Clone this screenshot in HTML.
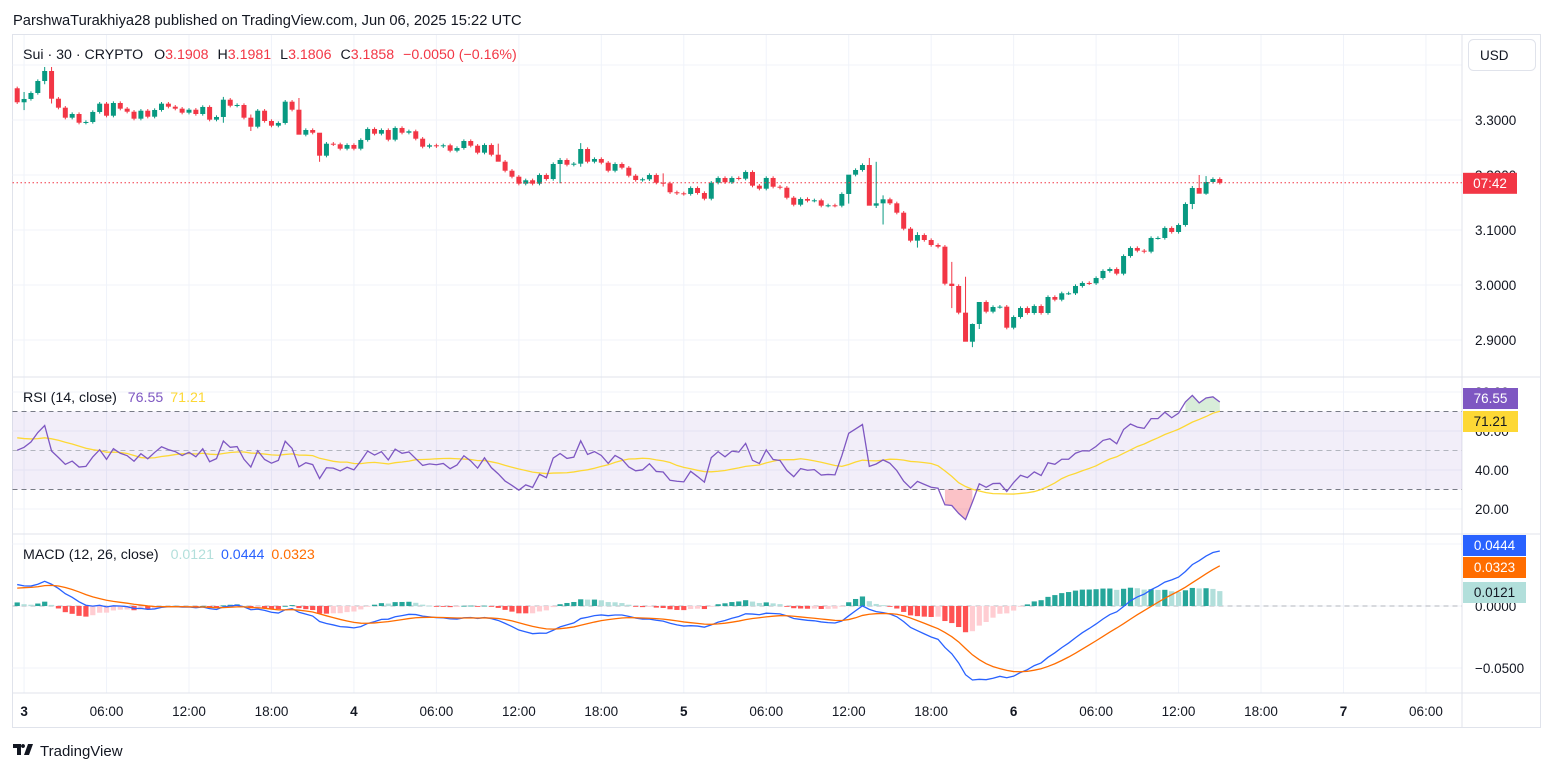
<!DOCTYPE html>
<html><head><meta charset="utf-8"><style>
html,body{margin:0;padding:0;background:#fff;}
svg{display:block;font-family:"Liberation Sans","DejaVu Sans",sans-serif;}
</style></head><body>
<svg id="chart" width="1553" height="772" viewBox="0 0 1553 772" xmlns="http://www.w3.org/2000/svg">
<text x="13" y="25" font-size="14.7" fill="#131722">ParshwaTurakhiya28 published on TradingView.com, Jun 06, 2025 15:22 UTC</text>
<rect x="12.5" y="34.5" width="1528" height="693" fill="none" stroke="#e0e3eb"/>
<g id="grid"></g>
<g id="panes"></g>
<g id="marks"></g>
<g id="axes"></g>
<text x="23" y="59" font-size="14.2" fill="#131722">Sui · 30 · CRYPTO <tspan dx="7">O</tspan><tspan fill="#f23645">3.1908</tspan><tspan dx="9">H</tspan><tspan fill="#f23645">3.1981</tspan><tspan dx="9">L</tspan><tspan fill="#f23645">3.1806</tspan><tspan dx="9">C</tspan><tspan fill="#f23645">3.1858</tspan><tspan dx="9" fill="#f23645">−0.0050 (−0.16%)</tspan></text>
<text x="23" y="402" font-size="14.2" fill="#131722">RSI (14, close) <tspan dx="7" fill="#7e57c2">76.55</tspan><tspan dx="7" fill="#fdd835">71.21</tspan></text>
<text x="23" y="559" font-size="14.2" fill="#131722">MACD (12, 26, close) <tspan dx="8" fill="#b2dfdb">0.0121</tspan><tspan dx="7" fill="#2962ff">0.0444</tspan><tspan dx="7" fill="#ff6d00">0.0323</tspan></text>
<g><rect x="1468.5" y="39.5" width="67" height="31" rx="5" fill="#fff" stroke="#e0e3eb"/><text x="1480" y="60" font-size="13.5" fill="#131722">USD</text></g>
<g>
<path d="M13 744h8v11h-4v-7h-4z M23 744a2 2 0 1 0 0.01 0z M28 744h5l-4 11h-5z" fill="#131722"/>
<text x="40" y="756" font-size="15" fill="#131722">TradingView</text></g>
</svg>
<script>
// ---- data: candles (30m), Jun 2 23:30 .. Jun 6 15:00 ----
const firstOpen = 3.3577;
const closes = [3.3322,3.3382,3.3491,3.3709,3.3891,3.3387,3.3224,3.3042,3.3109,3.2951,3.2964,3.3146,3.3297,3.3078,3.3309,3.3206,3.3151,3.3024,3.3169,3.3060,
3.3182,3.3297,3.3242,3.3206,3.3133,3.3187,3.3109,3.3237,3.3006,3.3055,3.3369,3.3260,3.3273,3.3042,3.2878,3.3169,3.2982,3.2897,3.2946,3.3333,
3.3187,3.2733,3.2818,3.2769,3.2351,3.2569,3.2558,3.2478,3.2546,3.2478,3.2637,3.2837,3.2751,3.2818,3.2642,3.2855,3.2769,3.2795,3.2660,3.2515,
3.2540,3.2522,3.2540,3.2442,3.2491,3.2618,3.2533,3.2406,3.2546,3.2369,3.2242,3.2078,3.1969,3.1842,3.1904,3.1842,3.2000,3.1927,3.2200,3.2273,
3.2187,3.2206,3.2473,3.2242,3.2291,3.2224,3.2078,3.2200,3.2133,3.1987,3.1909,3.1922,3.2000,3.1860,3.1849,3.1686,3.1667,3.1655,3.1764,3.1673,
3.1569,3.1860,3.1946,3.1867,3.1946,3.1933,3.2055,3.1806,3.1751,3.1946,3.1787,3.1769,3.1587,3.1460,3.1564,3.1533,3.1540,3.1442,3.1449,3.1442,
3.1655,3.2006,3.2091,3.2182,3.1442,3.1485,3.1558,3.1485,3.1315,3.1024,3.0806,3.0909,3.0818,3.0727,3.0697,3.0024,2.9982,2.9497,2.8969,2.9291,
2.9691,2.9515,2.9600,2.9606,2.9224,2.9418,2.9582,2.9491,2.9618,2.9491,2.9782,2.9733,2.9849,2.9849,2.9982,3.0037,3.0031,3.0127,3.0255,3.0291,
3.0206,3.0527,3.0673,3.0624,3.0606,3.0855,3.0855,3.1037,3.0964,3.1091,3.1473,3.1764,3.1660,3.1873,3.1927,3.1858];
// notable wick extremes (candle index -> [high, low])
const wickIdx = [1,4,5,30,34,41,44,70,79,82,94,121,124,125,126,131,136,138,139,140,171,172,173];
const wickHi  = [3.3509,3.3964,3.3964,3.3420,3.3100,3.3400,3.2600,3.2570,3.2310,3.2580,3.2030,3.2000,3.2310,3.2240,3.1630,3.0960,3.0420,3.0150,2.9300,2.9650,3.1800,3.2000,3.1980];
const wickLo  = [3.3180,3.3650,3.3300,3.2950,3.2800,3.2860,3.2240,3.2300,3.1850,3.2150,3.1790,3.1480,3.2050,3.1400,3.1100,3.0680,2.9580,2.9100,2.8870,2.9200,3.1380,3.1680,3.1640];
// seeds for indicators at left edge
const seedEma12 = 3.336, seedEma26 = 3.317, seedSignal = 0.0137;
const seedAvgGain = 0.0080, seedAvgLoss = 0.0060, seedRsi = 57;
const priceTicks = [3.4,3.3,3.2,3.1,3.0,2.9];
const priceTickLabels = ["","3.3000","3.2000","3.1000","3.0000","2.9000"];
const rsiTicks = [80,60,40,20];
const rsiTickLabels = ["80.00","60.00","40.00","20.00"];
const macdTicks = [0.05,0,-0.05];
const macdTickLabels = ["","0.0000","−0.0500"];
const timeLabels = ["3","06:00","12:00","18:00","4","06:00","12:00","18:00","5","06:00","12:00","18:00","6","06:00","12:00","18:00","7","06:00"];
const timeBold = [1,0,0,0,1,0,0,0,1,0,0,0,1,0,0,0,1,0];

// ---- axis functions ----
const X0 = 17.2, DX = 6.872;
const xAt = i => X0 + i*DX;
const xTime = h => xAt(1) + h*2*DX;
const yP = p => 120 + (3.3 - p)*550;
const yR = v => 470 - (v-40)*1.95;
const yM = m => 606 - m*1240;
const L = 12.5, R = 1462;

const NS = 'http://www.w3.org/2000/svg';
function mk(tag, attrs, parent){ const e=document.createElementNS(NS,tag); for(const k in attrs) e.setAttribute(k,attrs[k]); parent.appendChild(e); return e; }
const grid=document.getElementById('grid'), panes=document.getElementById('panes'), marks=document.getElementById('marks'), axes=document.getElementById('axes');

timeLabels.forEach((t,k)=>{ const x=xTime(k*6);
  const g=mk('line',{x1:x,x2:x,y1:35,y2:693,stroke:'#f0f3fa'},grid);
   
  const tl=mk('text',{x:x,y:716,'font-size':13.5,'text-anchor':'middle',fill:'#131722','font-weight':timeBold[k]?'bold':'normal'},axes);
    tl.textContent=t; });
priceTicks.forEach((p,k)=>{ const y=yP(p);
  const g=mk('line',{x1:L,x2:R,y1:y,y2:y,stroke:'#f0f3fa'},grid);
   
  if(priceTickLabels[k]){ const t=mk('text',{x:1475,y:y+5,'font-size':13.5,fill:'#131722'},axes);
    t.textContent=priceTickLabels[k]; }});
rsiTicks.forEach((v,k)=>{ const y=yR(v);
  const g=mk('line',{x1:L,x2:R,y1:y,y2:y,stroke:'#f0f3fa'},grid);
   
  const t=mk('text',{x:1475,y:y+5,'font-size':13.5,fill:'#131722'},axes);
    t.textContent=rsiTickLabels[k]; });
macdTicks.forEach((v,k)=>{ const y=yM(v);
  const g=mk('line',{x1:L,x2:R,y1:y,y2:y,stroke:'#f0f3fa'},grid);
   
  if(macdTickLabels[k]){ const t=mk('text',{x:1475,y:y+5,'font-size':13.5,fill:'#131722'},axes);
    t.textContent=macdTickLabels[k]; }});

[[L,377,1540,377],[L,534,1540,534],[L,693,1540,693],[R,35,R,727]].forEach(s=>{
  const l=mk('line',{x1:s[0],y1:s[1],x2:s[2],y2:s[3],stroke:'#e0e3eb'},panes);
    });
const band=mk('rect',{x:L,y:yR(70),width:R-L,height:yR(30)-yR(70),fill:'rgba(126,87,194,0.1)'},panes);
 
[[70,'#787b86'],[50,'#b2b5be'],[30,'#787b86']].forEach(b=>{ const y=yR(b[0]);
  const l=mk('line',{x1:L,x2:R,y1:y,y2:y,stroke:b[1],'stroke-dasharray':'5 4'},panes);
    });
const z=mk('line',{x1:L,x2:R,y1:yM(0),y2:yM(0),stroke:'#b2b5be','stroke-dasharray':'5 4'},panes);
 

const wick={}; wickIdx.forEach((i,k)=>wick[i]=[wickHi[k],wickLo[k]]);
closes.forEach((c,i)=>{
  const o = i===0?firstOpen:closes[i-1];
  const up=c>=o, col=up?'#089981':'#f23645', x=xAt(i);
  const hi = wick[i]?wick[i][0]:Math.max(o,c)+0.003, lo = wick[i]?wick[i][1]:Math.min(o,c)-0.003;
  const w=mk('line',{x1:x,x2:x,y1:yP(hi),y2:yP(lo),stroke:col,'stroke-width':1},marks);
   
  const top=yP(Math.max(o,c)), h=Math.max(1,yP(Math.min(o,c))-top);
  const b=mk('rect',{x:x-2.5,y:top,width:5,height:h,fill:col},marks);
   
});
const last=closes[closes.length-1];
const pl=mk('line',{x1:L,x2:R,y1:yP(last),y2:yP(last),stroke:'#f23645','stroke-dasharray':'1.5 2.5'},marks);
 
const pb=mk('rect',{x:1463,y:yP(last)-10,width:54,height:21,fill:'#f23645'},axes);
 
const pt=mk('text',{x:1490,y:yP(last)+5,'font-size':13.5,'text-anchor':'middle',fill:'#fff'},axes);
  pt.textContent='07:42';

let ag=seedAvgGain, al=seedAvgLoss; const rsi=[];
closes.forEach((c,i)=>{ const ch=c-(i===0?firstOpen:closes[i-1]);
  ag=(ag*13+Math.max(ch,0))/14; al=(al*13+Math.max(-ch,0))/14; rsi.push(100-100/(1+ag/al)); });
const rsiMa=rsi.map((v,i)=>{ let s=0; for(let k=i-13;k<=i;k++) s+= k<0?seedRsi:rsi[k]; return s/14; });
function fillBeyond(level, above, color, name){
  let pts=[];
  const flush=()=>{ if(pts.length>1){ const d='M'+pts[0][0]+','+yR(level)+' '+pts.map(p=>'L'+p[0]+','+p[1]).join(' ')+' L'+pts[pts.length-1][0]+','+yR(level)+'Z';
    const f=mk('path',{d:d,fill:color},marks);   } pts=[]; };
  rsi.forEach((v,i)=>{ const out=above?v>level:v<level; if(out) pts.push([xAt(i),yR(v)]); else flush(); }); flush();
}
fillBeyond(70,true,'rgba(76,175,80,0.22)','rsi-overbought-fill');
fillBeyond(30,false,'rgba(242,54,69,0.3)','rsi-oversold-fill');
const rma=mk('polyline',{points:rsiMa.map((v,i)=>xAt(i)+','+yR(v)).join(' '),fill:'none',stroke:'#fdd835','stroke-width':1.3},marks);
 
const rl=mk('polyline',{points:rsi.map((v,i)=>xAt(i)+','+yR(v)).join(' '),fill:'none',stroke:'#7e57c2','stroke-width':1.3},marks);
 

let e12=seedEma12, e26=seedEma26, sg=seedSignal; const macd=[], sig=[], hist=[];
closes.forEach(c=>{ e12+= (c-e12)*2/13; e26+=(c-e26)*2/27; const m=e12-e26; sg+=(m-sg)*2/10; macd.push(m); sig.push(sg); hist.push(m-sg); });
hist.forEach((h,i)=>{ const prev=i===0?h:hist[i-1];
  const col = h>=0 ? (h>=prev?'#26a69a':'#b2dfdb') : (h<prev?'#ff5252':'#ffcdd2');
  const y0=yM(0), y1=yM(h);
  const b=mk('rect',{x:xAt(i)-2.6,y:Math.min(y0,y1),width:5.2,height:Math.max(0.8,Math.abs(y1-y0)),fill:col},marks);
    });
const ml=mk('polyline',{points:macd.map((v,i)=>xAt(i)+','+yM(v)).join(' '),fill:'none',stroke:'#2962ff','stroke-width':1.3},marks);
 
const sl=mk('polyline',{points:sig.map((v,i)=>xAt(i)+','+yM(v)).join(' '),fill:'none',stroke:'#ff6d00','stroke-width':1.3},marks);
 

function tag(y,bg,fg,txt,name,w){ const r=mk('rect',{x:1463,y:y-10,width:w,height:21,fill:bg},axes);
   
  const t=mk('text',{x:1463+w/2,y:y+5,'font-size':13.5,'text-anchor':'middle',fill:fg},axes);
    t.textContent=txt; }
tag(398,'#7e57c2','#fff','76.55','rsi-value-label',55);
tag(421,'#fdd835','#131722','71.21','rsi-ma-value-label',55);
tag(545,'#2962ff','#fff','0.0444','macd-value-label',63);
tag(567,'#ff6d00','#fff','0.0323','signal-value-label',63);
tag(592,'#b2dfdb','#131722','0.0121','histogram-value-label',63);
</script>
</body></html>
